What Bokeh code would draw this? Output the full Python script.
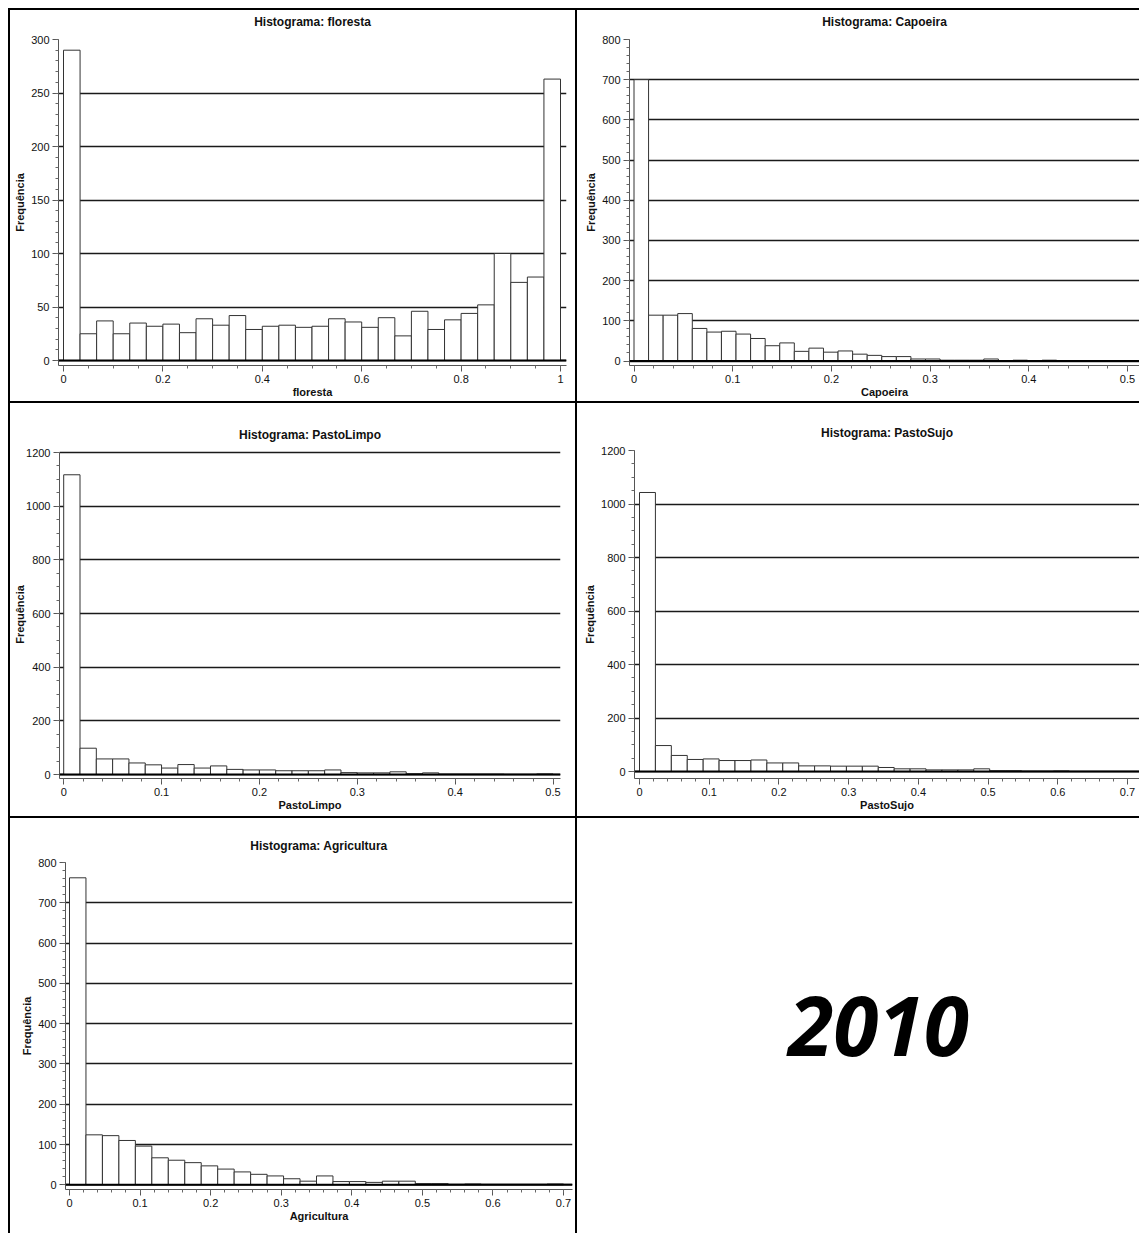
import numpy as np
from bokeh.plotting import figure
from bokeh.layouts import row, column
from bokeh.models import Range1d, SingleIntervalTicker, CustomJSTickFormatter, Span, Label
from bokeh.embed import file_html
from bokeh.resources import INLINE

# ------------------------------------------------------------------ data
y_label = "Frequência"

floresta_title = "Histograma: floresta"
floresta_xlabel = "floresta"
floresta_bins = (0.0, 1.0)
floresta_counts = [290, 25, 37, 25, 35, 32, 34, 26, 39, 33, 42, 29, 32, 33, 31,
                   32, 39, 36, 31, 40, 23, 46, 29, 38, 44, 52, 100, 73, 78, 263]

capoeira_title = "Histograma: Capoeira"
capoeira_xlabel = "Capoeira"
capoeira_bins = (0.0, 0.443)
capoeira_counts = [700, 114, 114, 118, 81, 72, 74, 67, 56, 38, 45, 24, 32, 22, 25,
                   17, 14, 11, 11, 5, 5, 2, 2, 2, 5, 1, 2, 1, 2, 1]

pastolimpo_title = "Histograma: PastoLimpo"
pastolimpo_xlabel = "PastoLimpo"
pastolimpo_bins = (0.0, 0.5)
pastolimpo_counts = [1117, 98, 58, 58, 43, 36, 24, 37, 24, 32, 19, 17, 17, 14, 14,
                     14, 17, 7, 6, 6, 10, 3, 6, 1, 1, 1, 1, 0, 0, 2]

pastosujo_title = "Histograma: PastoSujo"
pastosujo_xlabel = "PastoSujo"
pastosujo_bins = (0.0, 0.685)
pastosujo_counts = [1043, 97, 60, 45, 47, 41, 41, 43, 32, 32, 21, 21, 20, 20, 20,
                    15, 10, 10, 6, 6, 6, 10, 3, 3, 1, 1, 2, 0, 0, 0]

agricultura_title = "Histograma: Agricultura"
agricultura_xlabel = "Agricultura"
agricultura_bins = (0.0, 0.7)
agricultura_counts = [762, 124, 122, 110, 96, 67, 61, 55, 47, 39, 32, 26, 22, 15, 9,
                      22, 8, 8, 6, 9, 9, 3, 3, 1, 2, 1, 1, 1, 1, 2]

year_text = "2010"

# ------------------------------------------------------------------ styling helpers
FONT = "Liberation Sans"
PAD = 8   # room above the plot frame for the top tick label


def rng(a_px, b_px, p_px, p_val, q_px, q_val):
    s = (q_val - p_val) / (q_px - p_px)
    return p_val + (a_px - p_px) * s, p_val + (b_px - p_px) * s


num_fmt = CustomJSTickFormatter(code="return String(+tick.toFixed(3));")


def hist_cell(title, xlabel, counts, bins, w, h, frame, title_y, xcal, ycal,
              xint, xminor, yint, yminor, ylab_standoff=2):
    # all px values are in cell coordinates: frame = (left, top, right, bottom)
    L, T, R, B = frame
    th = T - PAD                     # height of the title strip
    ph = h - th                      # height of the plot figure
    edges = np.linspace(bins[0], bins[1], len(counts) + 1)

    # --- title strip
    t = figure(width=w, height=th, x_range=Range1d(0, 1), y_range=Range1d(0, 1),
               output_backend="svg", toolbar_location=None,
               x_axis_location=None, y_axis_location=None,
               min_border_left=L, min_border_right=w - R,
               min_border_top=0, min_border_bottom=0)
    t.styles = {"background-color": "white"}
    t.outline_line_color = None
    t.grid.visible = False
    t.background_fill_color = "white"
    t.border_fill_color = "white"
    t.add_layout(Label(x=(R - L) / 2, y=th - title_y,
                       x_units="screen", y_units="screen", text=title,
                       text_font=FONT, text_font_size="12px", text_font_style="bold",
                       text_color="#111111", text_align="center",
                       text_baseline="middle"))

    # --- plot
    yc = (ycal[0] - th, ycal[1], ycal[2] - th, ycal[3])
    x0, x1 = rng(L, R, *xcal)
    y0, y1 = rng(B - th, PAD, *yc)
    y_top_tick = ycal[3]
    p = figure(width=w, height=ph,
               x_range=Range1d(x0, x1), y_range=Range1d(y0, y1),
               output_backend="svg", toolbar_location=None,
               min_border_left=L, min_border_right=w - R,
               min_border_top=PAD, min_border_bottom=h - B)
    p.styles = {"background-color": "white"}
    p.background_fill_color = "white"
    p.border_fill_color = "white"
    p.outline_line_color = None

    p.xaxis.ticker = SingleIntervalTicker(interval=xint, num_minor_ticks=xminor)
    p.yaxis.ticker = SingleIntervalTicker(interval=yint, num_minor_ticks=yminor)
    p.yaxis.bounds = (y0, y_top_tick + 1e-6)
    p.xaxis.formatter = num_fmt
    p.xaxis.axis_label = xlabel
    p.yaxis.axis_label = y_label

    for ax in (p.xaxis, p.yaxis):
        ax.axis_line_color = "#555555"
        ax.axis_line_width = 1
        ax.major_tick_line_color = "#555555"
        ax.minor_tick_line_color = "#666666"
        ax.major_tick_in = 0
        ax.major_tick_out = 6
        ax.minor_tick_in = 0
        ax.minor_tick_out = 3
        ax.major_label_text_font = FONT
        ax.major_label_text_font_size = "11px"
        ax.major_label_text_color = "#111111"
        ax.axis_label_text_font = FONT
        ax.axis_label_text_font_size = "11px"
        ax.axis_label_text_font_style = "bold"
        ax.axis_label_text_color = "#111111"
    p.xaxis.major_label_standoff = 3
    p.xaxis.axis_label_standoff = 0
    p.yaxis.major_label_standoff = 3
    p.yaxis.axis_label_standoff = ylab_standoff

    p.xgrid.grid_line_color = None
    p.ygrid.grid_line_color = "#1a1a1a"
    p.ygrid.grid_line_width = 1.6
    p.ygrid.bounds = (y0, y_top_tick + 1e-6)

    p.quad(left=edges[:-1], right=edges[1:], bottom=0, top=counts,
           fill_color="white", line_color="#333333", line_width=1)
    p.add_layout(Span(location=0, dimension="width", line_color="black", line_width=2))
    return column(t, p, spacing=0)


# cell sizes (px)
W1, W2 = 565, 562
H1, H2, H3 = 391, 413, 415

c1 = hist_cell(floresta_title, floresta_xlabel, floresta_counts, floresta_bins,
               W1, H1, (48, 29, 556, 355), 11.5, (53, 0.0, 550, 1.0), (350, 0, 29, 300),
               0.2, 4, 50, 5)
c2 = hist_cell(capoeira_title, capoeira_xlabel, capoeira_counts, capoeira_bins,
               W2, H1, (52, 29, 562, 355), 11.0, (56.5, 0.0, 550, 0.5), (350.5, 0, 29, 800),
               0.1, 5, 100, 5)
c3 = hist_cell(pastolimpo_title, pastolimpo_xlabel, pastolimpo_counts, pastolimpo_bins,
               W1, H2, (49, 47, 550, 375), 31.0, (53.2, 0.0, 542.5, 0.5), (371, 0, 49, 1200),
               0.1, 5, 200, 4, ylab_standoff=-3)
c4 = hist_cell(pastosujo_title, pastosujo_xlabel, pastosujo_counts, pastosujo_bins,
               W2, H2, (57, 47, 562, 375), 29.0, (62, 0.0, 550, 0.7), (368, 0, 47, 1200),
               0.1, 5, 200, 4)
c5 = hist_cell(agricultura_title, agricultura_xlabel, agricultura_counts, agricultura_bins,
               W1, H3, (55, 44, 562, 371), 27.0, (59, 0.0, 553, 0.7), (366.3, 0, 44, 800),
               0.1, 5, 100, 5)

# year panel: frame fixed to the same vertical extent as the Agricultura frame
p6 = figure(width=W2, height=H3, x_range=Range1d(0, 1), y_range=Range1d(0, 1),
            output_backend="svg", toolbar_location=None,
            x_axis_location=None, y_axis_location=None,
            min_border_left=0, min_border_right=0,
            min_border_top=44, min_border_bottom=H3 - 371)
p6.styles = {"background-color": "white"}
p6.outline_line_color = None
p6.grid.visible = False
p6.background_fill_color = "white"
p6.border_fill_color = "white"
p6.add_layout(Label(x=301, y=164, x_units="screen", y_units="screen", text=year_text,
                    text_font="Open Sans", text_font_size="82px",
                    text_font_style="bold italic", text_align="center",
                    text_baseline="middle", text_color="black"))

layout = column(row(c1, c2, spacing=2), row(c3, c4, spacing=2), row(c5, p6, spacing=2),
                spacing=2)
layout.margin = (8, 0, 0, 8)
layout.styles = {"background-color": "black", "padding": "2px 0px 0px 2px"}

open("out.html", "w").write(file_html(layout, INLINE, title="Histogramas 2010"))
